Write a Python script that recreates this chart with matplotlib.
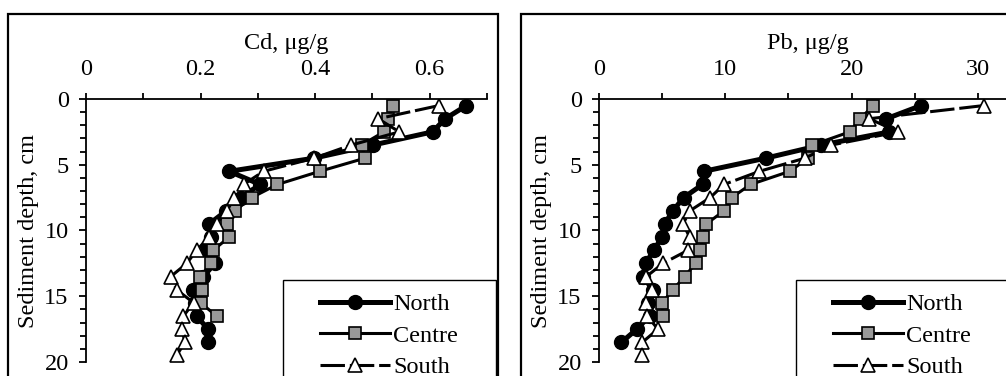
import numpy as np
import matplotlib.pyplot as plt
from matplotlib.patches import Rectangle
from matplotlib.ticker import MultipleLocator

plt.rcParams['font.family'] = ['Liberation Serif', 'DejaVu Serif']
plt.rcParams['font.size'] = 17.5

# sampling depths (cm), mid-points of 1 cm slices
depth = np.arange(20) + 0.5

# Cd, ug/g
cd_north = [0.664, 0.627, 0.605, 0.501, 0.398, 0.250, 0.304, 0.270, 0.245, 0.215,
            0.219, 0.212, 0.225, 0.205, 0.187, 0.190, 0.193, 0.213, 0.213]
cd_centre = [0.536, 0.527, 0.520, 0.481, 0.487, 0.408, 0.334, 0.289, 0.260, 0.247,
             0.250, 0.222, 0.219, 0.199, 0.202, 0.200, 0.228]
cd_south = [0.616, 0.510, 0.547, 0.463, 0.398, 0.310, 0.275, 0.259, 0.246, 0.228,
            0.215, 0.193, 0.176, 0.148, 0.158, 0.188, 0.170, 0.167, 0.173, 0.158]

# Pb, ug/g
pb_north = [25.5, 22.75, 23.0, 17.6, 13.2, 8.3, 8.2, 6.7, 5.85, 5.2,
            5.0, 4.33, 3.7, 3.45, 4.28, 3.9, 4.0, 3.0, 1.78]
pb_centre = [21.7, 20.7, 19.85, 16.9, 16.55, 15.1, 12.0, 10.5, 9.9, 8.5,
             8.23, 8.02, 7.65, 6.78, 5.86, 5.0, 5.07]
pb_south = [30.45, 21.4, 23.7, 18.4, 16.3, 12.7, 9.9, 8.8, 7.2, 6.65,
            7.18, 7.05, 5.07, 3.75, 4.22, 3.75, 3.8, 4.67, 3.43, 3.43]

labels = ['North', 'Centre', 'South']

W, H = 1006, 376
fig = plt.figure(figsize=(W / 100, H / 100), dpi=100)


def fx(x):
    return x / W


def fy(y):
    return 1 - y / H


def px_axes(x0, y0, x1, y1):
    return fig.add_axes([fx(x0), fy(y1), fx(x1 - x0), (y1 - y0) / H])


def chart_box(x0, y0, x1, y1, lw=1.6):
    r = Rectangle((fx(x0), fy(y1)), fx(x1 - x0), (y1 - y0) / H,
                  transform=fig.transFigure, fill=False, ec='black', lw=lw,
                  clip_on=False)
    fig.add_artist(r)


def profile(ax, north, centre, south):
    ax.plot(north, depth[:len(north)], '-', color='black', lw=3.6,
            marker='o', ms=10, mfc='black', mec='black', label=labels[0])
    ax.plot(centre, depth[:len(centre)], '-', color='black', lw=2.2,
            marker='s', ms=8.5, mfc='#999999', mec='black', mew=1.2,
            label=labels[1])
    ax.plot(south, depth[:len(south)], color='black', lw=2.2,
            dashes=(8, 1.6), marker='^', ms=9.5, mfc='white', mec='black',
            mew=1.2, label=labels[2])


def setup(ax, xmax, major, minor, xlabel, fmt):
    ax.set_xlim(0, xmax)
    ax.set_ylim(20, 0)
    ax.xaxis.tick_top()
    ax.xaxis.set_label_position('top')
    ax.spines['right'].set_visible(False)
    ax.spines['bottom'].set_visible(False)
    for s in ('left', 'top'):
        ax.spines[s].set_linewidth(1.3)
    ax.xaxis.set_major_locator(MultipleLocator(major))
    ax.xaxis.set_minor_locator(MultipleLocator(minor))
    ax.yaxis.set_major_locator(MultipleLocator(5))
    ax.yaxis.set_minor_locator(MultipleLocator(1))
    ax.xaxis.set_major_formatter(fmt)
    ax.tick_params(axis='both', which='both', direction='out', width=1.3,
                   labelsize=17.5)
    ax.tick_params(axis='x', which='major', length=4.5, pad=9.5)
    ax.tick_params(axis='x', which='minor', length=4.5)
    ax.tick_params(axis='y', which='major', length=5, pad=7.5)
    ax.tick_params(axis='y', which='minor', length=4)
    ax.set_xlabel(xlabel, fontsize=17.5, labelpad=7)
    ax.set_ylabel('Sediment depth, cm', fontsize=17.5, labelpad=4)
    ax.patch.set_alpha(0)


def legend_at(ax, x0, y0, box):
    ax.legend(loc='upper left', bbox_to_anchor=(fx(x0), fy(y0)),
              bbox_transform=fig.transFigure, frameon=False,
              fontsize=17.5, handlelength=2.9, handletextpad=0.12,
              labelspacing=0.4, borderpad=0, borderaxespad=0)
    chart_box(*box, lw=1.0)


# outer chart borders (they run off the bottom/right edge of the canvas)
chart_box(8, 14, 498, 420)
chart_box(521, 14, 1040, 420)

ax1 = px_axes(86, 99, 487, 362)
profile(ax1, cd_north, cd_centre, cd_south)
setup(ax1, 0.7, 0.2, 0.1, 'Cd, μg/g',
      plt.FuncFormatter(lambda v, p: '0' if v == 0 else f'{v:.1f}'))
legend_at(ax1, 320, 293, (283, 280, 496, 420))

ax2 = px_axes(599, 99, 599 + 33 * 12.63, 362)
profile(ax2, pb_north, pb_centre, pb_south)
setup(ax2, 33, 10, 5, 'Pb, μg/g',
      plt.FuncFormatter(lambda v, p: f'{v:.0f}'))
legend_at(ax2, 833, 293, (796, 280, 1030, 420))

fig.savefig('out.png', dpi=100)
